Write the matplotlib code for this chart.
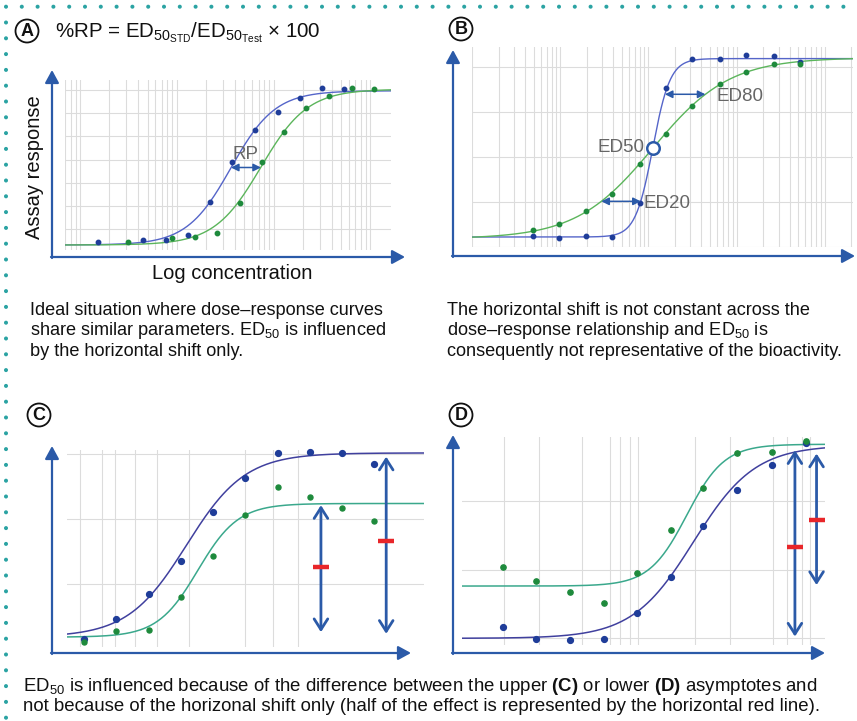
import numpy as np
import matplotlib
matplotlib.use('Agg')
import matplotlib.pyplot as plt
from matplotlib.patches import Circle
from matplotlib.ticker import LogLocator, FixedLocator

plt.rcParams['font.family'] = ['Liberation Sans', 'DejaVu Sans']
plt.rcParams['mathtext.fontset'] = 'custom'
plt.rcParams['mathtext.rm'] = 'Liberation Sans'
plt.rcParams['mathtext.it'] = 'Liberation Sans:italic'
plt.rcParams['mathtext.bf'] = 'Liberation Sans:bold'

W, H = 857, 721

# ---------------- data ----------------
# Panel A: log10 concentration vs assay response (%)
a_std_logc = [0.19, 0.655, 0.89, 1.115, 1.345, 1.575, 1.81, 2.045, 2.27, 2.5, 2.73]
a_std_resp = [1.7, 3.2, 3.2, 6.5, 27.5, 53.8, 74.2, 85.6, 95.1, 101.1, 100.4]
a_test_logc = [0.5, 0.955, 1.19, 1.42, 1.655, 1.885, 2.11, 2.34, 2.57, 2.81, 3.04]
a_test_resp = [1.7, 4.5, 5.2, 8.0, 26.9, 53.5, 73.1, 88.6, 95.9, 101.5, 100.9]
a_std_fit = [0.0, 99.5, 1.56, 1.9]    # bottom, top, log ED50, hill
a_test_fit = [0.0, 100.5, 1.87, 1.8]
a_grid_y = [10, 25, 40, 55, 70, 85, 100]

# Panel B
b_logc = [-0.31, -0.01, 0.29, 0.59, 0.90, 1.20, 1.50, 1.81, 2.11, 2.42, 2.72]
b_std_resp = [0.4, -0.6, 0.4, 0.0, 19.3, 83.6, 99.6, 100.0, 102.2, 101.3, 97.9]
b_test_resp = [4.1, 7.1, 14.6, 24.3, 41.1, 57.9, 73.3, 85.6, 92.3, 96.8, 97.2]
b_std_fit = [0.0, 100.0, 1.05, 4.4]
b_test_fit = [-1.0, 100.5, 1.05, 1.0]
b_grid_y = [-5.6, 19.6, 44.9, 70.1, 95.3]

# Panel C (upper asymptote differs)
c_x = [0.54, 1.53, 2.55, 3.54, 4.52, 5.52, 6.52, 7.51, 8.51, 9.51]
c_std_resp = [-0.9, 9.8, 23.6, 41.6, 68.2, 86.6, 100.4, 100.9, 100.4, 94.3]
c_test_resp = [-2.7, 3.6, 3.9, 21.8, 44.1, 66.6, 81.8, 76.3, 70.2, 63.0]
c_std_fit = [0.0, 100.2, 3.7, 1.1]     # bottom, top, midpoint, slope
c_test_fit = [0.0, 72.7, 4.05, 1.6]
c_arrow_x = [7.86, 9.88]
c_arrow_top = [71.8, 98.2]
c_arrow_bottom = [2.7, 1.8]
c_half_effect = [38.4, 52.3]
c_grid_x = [0.41, 1.08, 1.49, 2.11, 2.78, 3.79, 5.52, 6.37, 7.16]
c_grid_y = [28.9, 64.3, 99.5]

# Panel D (lower asymptote differs)
d_x = [1.2, 2.2, 3.2, 4.19, 5.17, 6.18, 7.14, 8.15, 9.16, 10.18]
d_std_resp = [5.7, -0.5, -0.9, -0.3, 13.2, 31.8, 58.2, 76.5, 89.7, 100.9]
d_test_resp = [36.9, 29.7, 23.7, 18.4, 33.5, 55.8, 77.8, 95.9, 96.2, 101.9]
d_std_fit = [0.0, 99.7, 6.85, 1.1]
d_test_fit = [27.0, 100.2, 6.65, 1.8]
d_arrow_x = [9.85, 10.49]
d_arrow_top = [97.1, 95.4]
d_arrow_bottom = [0.9, 27.5]
d_half_effect = [47.3, 61.0]
d_grid_x = [1.25, 2.27, 3.55, 4.38, 4.68, 4.96, 5.22, 6.9, 7.93, 9.21, 9.61, 10.05, 10.3]
d_grid_y = [0.0, 35.2, 70.8]

# ---------------- styles ----------------
AXBLUE = '#2b5aa8'
DOT = '#2ba3a3'
GRID = '#dcdcdc'
BLUE_LINE_AB = '#5565c9'
GREEN_LINE_AB = '#5bb55b'
BLUE_PT = '#1f3d99'
GREEN_PT = '#1e8a3c'
BLUE_LINE_CD = '#40409e'
GREEN_LINE_CD = '#3aa88c'
GREY_TXT = '#666666'
RED = '#e8262a'
DESC_FS = 13.1
BOTTOM_FS = 13.4


def log4pl(logc, p):
    b, t, m, h = p
    return b + (t - b) / (1.0 + 10.0 ** (h * (m - np.asarray(logc))))


def inv_log4pl(y, p):
    b, t, m, h = p
    return m - np.log10((t - b) / (y - b) - 1.0) / h


def logistic(x, p):
    b, t, m, k = p
    return b + (t - b) / (1.0 + np.exp(-k * (np.asarray(x) - m)))


fig = plt.figure(figsize=(W / 100, H / 100), dpi=100)
ov = fig.add_axes([0, 0, 1, 1])
ov.set_xlim(0, W)
ov.set_ylim(H, 0)
ov.axis('off')


def px_axes(x0, y0, x1, y1):
    ax = fig.add_axes([x0 / W, 1 - y1 / H, (x1 - x0) / W, (y1 - y0) / H])
    ax.set_facecolor('none')
    for s in ax.spines.values():
        s.set_visible(False)
    ax.tick_params(which='both', length=0, labelbottom=False, labelleft=False)
    return ax


# dotted border
for x in np.arange(6, 852, 15.8):
    ov.add_patch(Circle((x, 6.7), 2.0, color=DOT, lw=0))
for y in np.arange(22.5, 718, 15.8):
    ov.add_patch(Circle((6, y), 2.0, color=DOT, lw=0))


def panel_label(cx, cy, letter):
    ov.add_patch(Circle((cx, cy), 11.5, fill=False, ec='#111111', lw=1.3))
    ov.text(cx, cy + 0.5, letter, ha='center', va='center', fontsize=13,
            fontweight='bold', color='#111111')


def axis_arrows(x0, y0, ytop, xright):
    kw = dict(arrowstyle='-|>,head_length=0.55,head_width=0.3', color=AXBLUE,
              lw=1.6, mutation_scale=14, shrinkA=0, shrinkB=0)
    ov.annotate('', xy=(x0, ytop), xytext=(x0, y0 + 1), arrowprops=kw)
    ov.annotate('', xy=(xright, y0), xytext=(x0 - 1, y0), arrowprops=kw)


panel_label(27, 31, 'A')
panel_label(461, 29, 'B')
panel_label(39, 415, 'C')
panel_label(461, 415, 'D')

axis_arrows(52, 257, 70, 405)
axis_arrows(453, 256, 50, 855)
axis_arrows(52, 653, 446, 411)
axis_arrows(453, 653, 435, 825)

# ---------------- Panel A ----------------
axA = px_axes(65, 80, 391, 250)
axA.set_xscale('log')
axA.set_xlim(10 ** -0.155, 10 ** 3.214)
axA.set_ylim(-3.23, 106.45)
axA.xaxis.set_major_locator(LogLocator(base=10, numticks=20))
axA.xaxis.set_minor_locator(LogLocator(base=10, subs=np.arange(2, 10) * 1.0, numticks=100))
axA.yaxis.set_major_locator(FixedLocator(a_grid_y))
axA.grid(True, which='both', color=GRID, lw=0.8)
xx = np.linspace(-0.155, 3.214, 300)
axA.plot(10 ** xx, log4pl(xx, a_std_fit), color=BLUE_LINE_AB, lw=1.0)
axA.plot(10 ** xx, log4pl(xx, a_test_fit), color=GREEN_LINE_AB, lw=1.0)
axA.plot(10 ** np.array(a_std_logc), a_std_resp, 'o', color=BLUE_PT, ms=3.2, clip_on=False)
axA.plot(10 ** np.array(a_test_logc), a_test_resp, 'o', color=GREEN_PT, ms=3.2, clip_on=False)
yRP = 50
axA.annotate('', xy=(10 ** a_test_fit[2], yRP), xytext=(10 ** a_std_fit[2], yRP),
             arrowprops=dict(arrowstyle='<|-|>,head_length=0.5,head_width=0.25', color=AXBLUE,
                             lw=1.1, mutation_scale=9, shrinkA=0, shrinkB=0))
axA.text(10 ** ((a_std_fit[2] + a_test_fit[2]) / 2), 53, 'RP', ha='center', va='bottom',
         fontsize=13.5, color=GREY_TXT)

ov.text(55, 37, r'%RP = ED$_{\mathrm{50}_{\mathrm{STD}}}$/ED$_{\mathrm{50}_{\mathrm{Test}}}$ × 100',
        ha='left', va='baseline', fontsize=14.8, color='#111111')
ov.text(232, 279, 'Log concentration', ha='center', va='baseline', fontsize=14.5, color='#111111')
ov.text(35, 167, 'Assay response', ha='center', va='center', rotation=90, fontsize=14.5,
        color='#111111')

# ---------------- Panel B ----------------
axB = px_axes(472, 47, 853, 247)
axB.set_xscale('log')
axB.set_xlim(10 ** -1.0, 10 ** 3.32)
axB.set_ylim(-5.6, 106.5)
axB.xaxis.set_major_locator(LogLocator(base=10, numticks=20))
axB.xaxis.set_minor_locator(LogLocator(base=10, subs=np.arange(2, 10) * 1.0, numticks=100))
axB.yaxis.set_major_locator(FixedLocator(b_grid_y))
axB.grid(True, which='both', color=GRID, lw=0.8)
xb = np.linspace(-1.0, 3.32, 400)
axB.plot(10 ** xb, log4pl(xb, b_std_fit), color=BLUE_LINE_AB, lw=1.0)
axB.plot(10 ** xb, log4pl(xb, b_test_fit), color=GREEN_LINE_AB, lw=1.0)
axB.plot(10 ** np.array(b_logc), b_std_resp, 'o', color=BLUE_PT, ms=3.2, clip_on=False)
axB.plot(10 ** np.array(b_logc), b_test_resp, 'o', color=GREEN_PT, ms=3.2, clip_on=False)
arr_small = dict(arrowstyle='<|-|>,head_length=0.5,head_width=0.25', color=AXBLUE,
                 lw=1.1, mutation_scale=9, shrinkA=0, shrinkB=0)
for lev, lab in [(80, 'ED80'), (20, 'ED20')]:
    xs = inv_log4pl(lev, b_std_fit)
    xt = inv_log4pl(lev, b_test_fit)
    axB.annotate('', xy=(10 ** max(xs, xt), lev), xytext=(10 ** min(xs, xt), lev),
                 arrowprops=arr_small)
xe50 = inv_log4pl(50, b_std_fit)
axB.plot([10 ** xe50], [50], 'o', mfc='white', mec=AXBLUE, mew=1.8, ms=9, zorder=5)
axB.text(10 ** (inv_log4pl(80, b_test_fit) + 0.12), 79, 'ED80', ha='left', va='center',
         fontsize=13.5, color=GREY_TXT)
axB.text(10 ** (inv_log4pl(20, b_std_fit) + 0.03), 19, 'ED20', ha='left', va='center',
         fontsize=13.5, color=GREY_TXT)
axB.text(10 ** (xe50 - 0.09), 50, 'ED50', ha='right', va='center', fontsize=13.5,
         color=GREY_TXT)

# ---------------- description texts ----------------
desc_a = ['Ideal situation where dose–response curves',
          r'share similar parameters. ED$_{\mathrm{50}}$ is influenced',
          'by the horizontal shift only.']
desc_b = ['The horizontal shift is not constant across the',
          r'dose–response relationship and ED$_{\mathrm{50}}$ is',
          'consequently not representative of the bioactivity.']
for i, (ta, tb) in enumerate(zip(desc_a, desc_b)):
    ov.text(30, 315 + 20.3 * i, ta, ha='left', va='baseline', fontsize=DESC_FS, color='#111111')
    ov.text(447, 315 + 20.3 * i, tb, ha='left', va='baseline', fontsize=DESC_FS, color='#111111')

bottom_txt = [r'ED$_{\mathrm{50}}$ is influenced because of the difference between the upper '
              r'$\mathbf{(C)}$ or lower $\mathbf{(D)}$ asymptotes and',
              'not because of the horizonal shift only (half of the effect is represented by the '
              'horizontal red line).']
for i, t in enumerate(bottom_txt):
    ov.text(23, 691 + 20.3 * i, t, ha='left', va='baseline', fontsize=BOTTOM_FS, color='#111111')

# ---------------- Panel C ----------------
axC = px_axes(67, 450, 424, 647)
axC.set_xlim(0, 11.05)
axC.set_ylim(-5.36, 101.8)
axC.xaxis.set_major_locator(FixedLocator(c_grid_x))
axC.yaxis.set_major_locator(FixedLocator(c_grid_y))
axC.grid(True, color=GRID, lw=0.8)
xc = np.linspace(0, 11.05, 300)
axC.plot(xc, logistic(xc, c_std_fit), color=BLUE_LINE_CD, lw=1.1)
axC.plot(xc, logistic(xc, c_test_fit), color=GREEN_LINE_CD, lw=1.1)
axC.plot(c_x, c_std_resp, 'o', color=BLUE_PT, ms=4.2, clip_on=False)
axC.plot(c_x, c_test_resp, 'o', color=GREEN_PT, ms=3.6, clip_on=False)
arr_big = dict(arrowstyle='<->,head_length=0.55,head_width=0.35', color=AXBLUE,
               lw=2.0, mutation_scale=14, shrinkA=0, shrinkB=0)
for x, yt, yb, yh in zip(c_arrow_x, c_arrow_top, c_arrow_bottom, c_half_effect):
    axC.annotate('', xy=(x, yt), xytext=(x, yb), arrowprops=arr_big, annotation_clip=False)
    axC.plot([x], [yh], marker='_', ms=11, mew=3.2, color=RED, zorder=6)

# ---------------- Panel D ----------------
axD = px_axes(462, 437, 825, 645)
axD.set_xlim(0, 10.74)
axD.set_ylim(-3.44, 103.95)
axD.xaxis.set_major_locator(FixedLocator(d_grid_x))
axD.yaxis.set_major_locator(FixedLocator(d_grid_y))
axD.grid(True, color=GRID, lw=0.8)
xd = np.linspace(0, 10.74, 300)
axD.plot(xd, logistic(xd, d_std_fit), color=BLUE_LINE_CD, lw=1.1)
axD.plot(xd, logistic(xd, d_test_fit), color=GREEN_LINE_CD, lw=1.1)
axD.plot(d_x, d_std_resp, 'o', color=BLUE_PT, ms=4.2, clip_on=False)
axD.plot(d_x, d_test_resp, 'o', color=GREEN_PT, ms=3.8, clip_on=False)
for x, yt, yb, yh in zip(d_arrow_x, d_arrow_top, d_arrow_bottom, d_half_effect):
    axD.annotate('', xy=(x, yt), xytext=(x, yb), arrowprops=arr_big, annotation_clip=False)
    axD.plot([x], [yh], marker='_', ms=11, mew=3.2, color=RED, zorder=6)

fig.savefig('out.png', dpi=100)
